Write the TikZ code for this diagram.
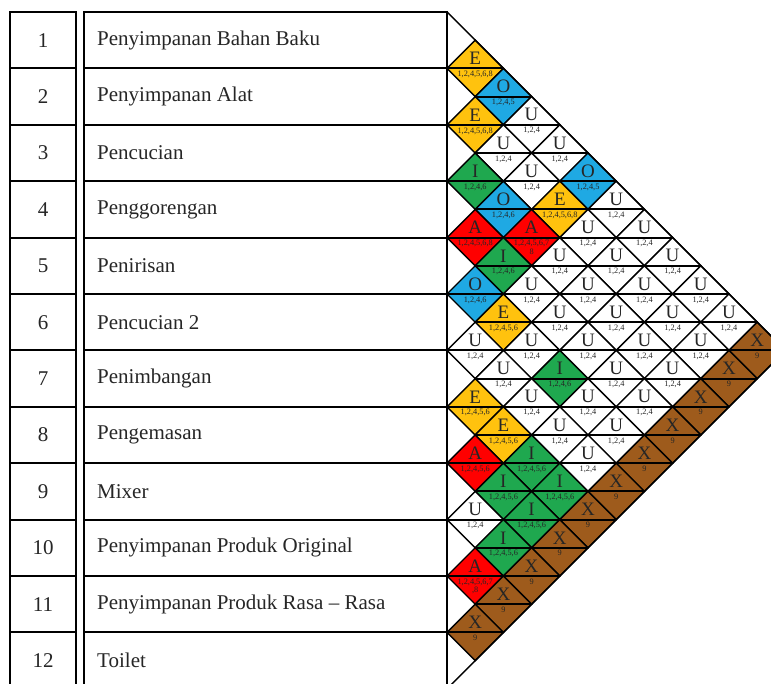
\documentclass[tikz,border=0pt]{standalone}
\usepackage{fontspec}
\setmainfont{Liberation Serif}
\definecolor{cE}{HTML}{FFC20E}
\definecolor{cO}{HTML}{1FA9E3}
\definecolor{cI}{HTML}{1FA84F}
\definecolor{cA}{HTML}{FF0000}
\definecolor{cX}{HTML}{9E5B1C}
\newcommand\arcpair[5]{%
 \pgfmathsetmacro\cx{447+28.2*(#2-#1)}%
 \pgfmathsetmacro\cy{12+28.2*(#1-1+#2)}%
 \filldraw[cell, fill=#4] ({\cx-28.2},\cy) -- (\cx,{\cy-28.2}) -- ({\cx+28.2},\cy) -- (\cx,{\cy+28.2}) -- cycle;
 \draw[midline] ({\cx-28.2},\cy) -- ({\cx+28.2},\cy);
 \node[letter] (L#1-#2) at (\cx,{\cy-10}) {#3};
 \node[reason] (R#1-#2) at (\cx,{\cy+2.5}) {#5};
}
\begin{document}
\begin{tikzpicture}[x=1pt,y=-1pt,
  cell/.style={draw=black, line width=1.4pt, line join=miter},
  midline/.style={draw=black, line width=2pt},
  letter/.style={font=\fontsize{19}{19}\selectfont, inner sep=0pt, text=black!85},
  reason/.style={font=\fontsize{8.3}{8.5}\selectfont, inner sep=0pt, anchor=north, align=center, text=black!85},
  tab/.style={draw=black, line width=2pt},
  num/.style={font=\fontsize{21}{24}\selectfont, inner sep=0pt, text=black!85},
  dept/.style={font=\fontsize{21}{24}\selectfont, inner sep=0pt, anchor=west, text=black!85}]
\useasboundingbox (0,0) rectangle (771,684);
\fill[white] (0,0) rectangle (771,684);
\clip (0,0) rectangle (771,684);
% table
\draw[tab] (10,12) rectangle (76,688.8);
\draw[tab] (84,12) rectangle (447,688.8);
\foreach \k in {1,...,11}{
  \pgfmathsetmacro\yb{12+56.4*\k}
  \draw[tab] (10,\yb) -- (76,\yb);
  \draw[tab] (84,\yb) -- (447,\yb);
}
\foreach \k/\t in {1/Penyimpanan Bahan Baku, 2/Penyimpanan Alat, 3/Pencucian, 4/Penggorengan, 5/Penirisan, 6/Pencucian 2, 7/Penimbangan, 8/Pengemasan, 9/Mixer, 10/Penyimpanan Produk Original, 11/Penyimpanan Produk Rasa – Rasa, 12/Toilet}{
  \pgfmathsetmacro\yc{12+56.4*(\k-0.5)}
  \node[num] (n\k) at (43,\yc) {\k};
  \node[dept] (d\k) at (97,\yc) {\t};
}
% relationship cells
\arcpair{1}{2}{E}{cE}{1,2,4,5,6,8}
\arcpair{1}{3}{O}{cO}{1,2,4,5}
\arcpair{1}{4}{U}{white}{1,2,4}
\arcpair{1}{5}{U}{white}{1,2,4}
\arcpair{1}{6}{O}{cO}{1,2,4,5}
\arcpair{1}{7}{U}{white}{1,2,4}
\arcpair{1}{8}{U}{white}{1,2,4}
\arcpair{1}{9}{U}{white}{1,2,4}
\arcpair{1}{10}{U}{white}{1,2,4}
\arcpair{1}{11}{U}{white}{1,2,4}
\arcpair{1}{12}{X}{cX}{9}
\arcpair{2}{3}{E}{cE}{1,2,4,5,6,8}
\arcpair{2}{4}{U}{white}{1,2,4}
\arcpair{2}{5}{U}{white}{1,2,4}
\arcpair{2}{6}{E}{cE}{1,2,4,5,6,8}
\arcpair{2}{7}{U}{white}{1,2,4}
\arcpair{2}{8}{U}{white}{1,2,4}
\arcpair{2}{9}{U}{white}{1,2,4}
\arcpair{2}{10}{U}{white}{1,2,4}
\arcpair{2}{11}{U}{white}{1,2,4}
\arcpair{2}{12}{X}{cX}{9}
\arcpair{3}{4}{I}{cI}{1,2,4,6}
\arcpair{3}{5}{O}{cO}{1,2,4,6}
\arcpair{3}{6}{A}{cA}{1,2,4,5,6,7\\8}
\arcpair{3}{7}{U}{white}{1,2,4}
\arcpair{3}{8}{U}{white}{1,2,4}
\arcpair{3}{9}{U}{white}{1,2,4}
\arcpair{3}{10}{U}{white}{1,2,4}
\arcpair{3}{11}{U}{white}{1,2,4}
\arcpair{3}{12}{X}{cX}{9}
\arcpair{4}{5}{A}{cA}{1,2,4,5,6,8}
\arcpair{4}{6}{I}{cI}{1,2,4,6}
\arcpair{4}{7}{U}{white}{1,2,4}
\arcpair{4}{8}{U}{white}{1,2,4}
\arcpair{4}{9}{U}{white}{1,2,4}
\arcpair{4}{10}{U}{white}{1,2,4}
\arcpair{4}{11}{U}{white}{1,2,4}
\arcpair{4}{12}{X}{cX}{9}
\arcpair{5}{6}{O}{cO}{1,2,4,6}
\arcpair{5}{7}{E}{cE}{1,2,4,5,6}
\arcpair{5}{8}{U}{white}{1,2,4}
\arcpair{5}{9}{I}{cI}{1,2,4,6}
\arcpair{5}{10}{U}{white}{1,2,4}
\arcpair{5}{11}{U}{white}{1,2,4}
\arcpair{5}{12}{X}{cX}{9}
\arcpair{6}{7}{U}{white}{1,2,4}
\arcpair{6}{8}{U}{white}{1,2,4}
\arcpair{6}{9}{U}{white}{1,2,4}
\arcpair{6}{10}{U}{white}{1,2,4}
\arcpair{6}{11}{U}{white}{1,2,4}
\arcpair{6}{12}{X}{cX}{9}
\arcpair{7}{8}{E}{cE}{1,2,4,5,6}
\arcpair{7}{9}{E}{cE}{1,2,4,5,6}
\arcpair{7}{10}{I}{cI}{1,2,4,5,6}
\arcpair{7}{11}{I}{cI}{1,2,4,5,6}
\arcpair{7}{12}{X}{cX}{9}
\arcpair{8}{9}{A}{cA}{1,2,4,5,6}
\arcpair{8}{10}{I}{cI}{1,2,4,5,6}
\arcpair{8}{11}{I}{cI}{1,2,4,5,6}
\arcpair{8}{12}{X}{cX}{9}
\arcpair{9}{10}{U}{white}{1,2,4}
\arcpair{9}{11}{I}{cI}{1,2,4,5,6}
\arcpair{9}{12}{X}{cX}{9}
\arcpair{10}{11}{A}{cA}{1,2,4,5,6,7\\,8}
\arcpair{10}{12}{X}{cX}{9}
\arcpair{11}{12}{X}{cX}{9}
% outer triangle
\coordinate (tTop) at (447,12);
\coordinate (tApex) at (785.4,350.4);
\coordinate (tBot) at (447,688.8);
\draw[cell] (tTop) -- (tApex) -- (tBot);
\draw[tab] (tTop) -- (tBot);
\end{tikzpicture}
\end{document}
